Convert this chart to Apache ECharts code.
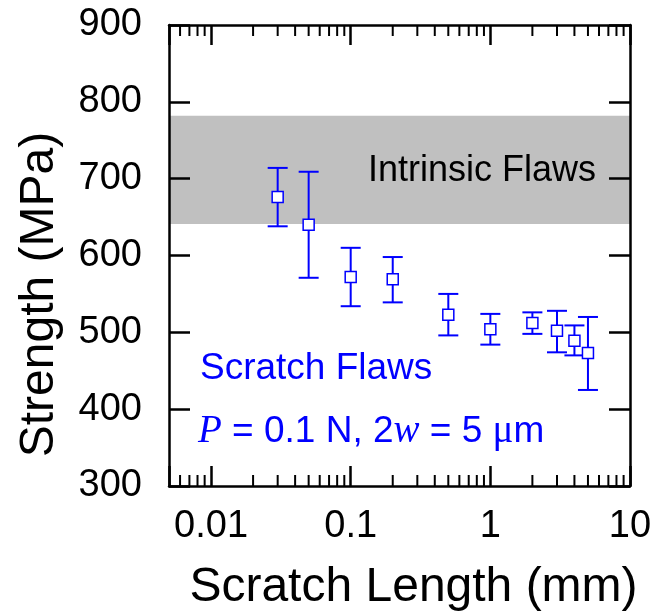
<!DOCTYPE html>
<html>
<head>
<meta charset="utf-8">
<script src="https://cdn.jsdelivr.net/npm/echarts@6/dist/echarts.min.js"></script>
<style>
html, body { margin: 0; padding: 0; background: #fff; }
#chart { width: 665px; height: 612px; }
</style>
</head>
<body>
<div id="chart"></div>
<script>
// scratch length (mm) and measured strength (MPa)
var scratchLength = [0.03, 0.05, 0.1, 0.2, 0.5, 1, 2, 3, 4, 5];
var strengthMean  = [676, 640, 572, 569, 523, 504, 512, 502, 489, 473];
var strengthHigh  = [714, 709, 610, 598, 550, 524, 526, 528, 509, 520];
var strengthLow   = [638, 571, 534, 539, 496, 484, 498, 474, 470, 425];

// intrinsic flaw strength band (MPa)
var intrinsicBand = [641, 782];

// axes
var xMin = 0.005, xMax = 10;
var yMin = 300, yMax = 900, yStep = 100;
var xTickLabels = ['0.01', '0.1', '1', '10'];
var xMinorTicks = [0.006, 0.007, 0.008, 0.009,
    0.02, 0.03, 0.04, 0.05, 0.06, 0.07, 0.08, 0.09,
    0.2, 0.3, 0.4, 0.5, 0.6, 0.7, 0.8, 0.9,
    2, 3, 4, 5, 6, 7, 8, 9];

var BLUE = '#0000ff';
var FONT = 'Liberation Sans, Arial, sans-serif';

var chart = echarts.init(document.getElementById('chart'));

function xLabel(v) {
    for (var i = 0; i < xTickLabels.length; i++) {
        if (Math.abs(Math.log10(v) - Math.log10(parseFloat(xTickLabels[i]))) < 1e-6) return xTickLabels[i];
    }
    return '';
}

function makeX(pos, withLabels) {
    return {
        type: 'log', logBase: 10, min: xMin, max: xMax, position: pos, z: 10,
        axisLine: { show: true, onZero: false, lineStyle: { color: '#000', width: 2.5 } },
        axisTick: { show: true, inside: true, length: 20, lineStyle: { color: '#000', width: 2.5 } },
        minorTick: { show: false },
        splitLine: { show: false },
        axisLabel: { show: withLabels, formatter: xLabel, color: '#000', fontSize: 38, fontFamily: FONT, margin: 22,
            showMinLabel: true, showMaxLabel: true },
        name: withLabels ? 'Scratch Length (mm)' : '',
        nameLocation: 'middle', nameGap: 78,
        nameTextStyle: { color: '#000', fontSize: 48, fontFamily: FONT, padding: [0, 0, 0, 28] }
    };
}

function makeY(pos, withLabels) {
    return {
        type: 'value', min: yMin, max: yMax, interval: yStep, position: pos, z: 10,
        axisLine: { show: true, onZero: false, lineStyle: { color: '#000', width: 2.5 } },
        axisTick: { show: true, inside: true, length: 21, lineStyle: { color: '#000', width: 2.5 } },
        splitLine: { show: false },
        axisLabel: { show: withLabels, color: '#000', fontSize: 38, fontFamily: FONT, margin: 27 },
        name: withLabels ? 'Strength (MPa)' : '',
        nameLocation: 'middle', nameGap: 105,
        nameTextStyle: { color: '#000', fontSize: 48, fontFamily: FONT, padding: [0, 78, 0, 0] }
    };
}

var option = {
    animation: false,
    backgroundColor: '#fff',
    grid: { left: 169, top: 25, width: 461, height: 461, outerBoundsMode: 'none', containLabel: false },
    xAxis: [makeX('bottom', true), makeX('top', false)],
    yAxis: [makeY('left', true), makeY('right', false)],
    series: [
        {
            // gray band
            type: 'line', data: [], silent: true,
            markArea: {
                silent: true,
                itemStyle: { color: '#c0c0c0' },
                data: [[{ yAxis: intrinsicBand[0] }, { yAxis: intrinsicBand[1] }]]
            }
        },
        {
            // minor ticks on the log axis, top and bottom
            type: 'custom', clip: false, silent: true, z: 11,
            data: xMinorTicks.map(function (v) { return [v, yMin]; }),
            encode: { x: 0, y: 1 },
            renderItem: function (params, api) {
                var b = api.coord([api.value(0), yMin]);
                var t = api.coord([api.value(0), yMax]);
                var st = { stroke: '#000', lineWidth: 2 };
                return {
                    type: 'group', children: [
                        { type: 'line', shape: { x1: b[0], y1: b[1], x2: b[0], y2: b[1] - 11 }, style: st },
                        { type: 'line', shape: { x1: t[0], y1: t[1], x2: t[0], y2: t[1] + 11 }, style: st }
                    ]
                };
            }
        },
        {
            // error bars
            type: 'custom', silent: true, z: 3,
            data: scratchLength.map(function (x, i) { return [x, strengthLow[i], strengthHigh[i]]; }),
            encode: { x: 0, y: [1, 2] },
            renderItem: function (params, api) {
                var lo = api.coord([api.value(0), api.value(1)]);
                var hi = api.coord([api.value(0), api.value(2)]);
                var w = 10;
                var st = { stroke: BLUE, lineWidth: 2 };
                return {
                    type: 'group', children: [
                        { type: 'line', shape: { x1: lo[0], y1: lo[1], x2: hi[0], y2: hi[1] }, style: st },
                        { type: 'line', shape: { x1: lo[0] - w, y1: lo[1], x2: lo[0] + w, y2: lo[1] }, style: st },
                        { type: 'line', shape: { x1: hi[0] - w, y1: hi[1], x2: hi[0] + w, y2: hi[1] }, style: st }
                    ]
                };
            }
        },
        {
            type: 'scatter', z: 4, silent: true,
            symbol: 'rect', symbolSize: 11,
            itemStyle: { color: '#fff', borderColor: BLUE, borderWidth: 1.5, opacity: 1 },
            data: scratchLength.map(function (x, i) { return [x, strengthMean[i]]; })
        }
    ],
    graphic: [
        {
            type: 'text', x: 596, y: 171, z: 20,
            style: { text: 'Intrinsic Flaws', fill: '#000', font: '36px ' + FONT, align: 'right', verticalAlign: 'middle' }
        },
        {
            type: 'text', x: 200, y: 369, z: 20,
            style: { text: 'Scratch Flaws', fill: BLUE, font: '37px ' + FONT, align: 'left', verticalAlign: 'middle' }
        },
        {
            type: 'text', x: 198, y: 432, z: 20,
            style: {
                text: '{i|P} = 0.1 N, 2{i|w} = 5 {m|\u03bc}m',
                fill: BLUE, font: '37px ' + FONT, align: 'left', verticalAlign: 'middle',
                rich: {
                    i: { fontFamily: 'Liberation Serif, Times New Roman, serif', fontStyle: 'italic', fontSize: 39, fill: BLUE },
                    m: { fontFamily: 'Liberation Serif, Times New Roman, serif', fontSize: 39, fill: BLUE }
                }
            }
        }
    ]
};

chart.setOption(option);
</script>
</body>
</html>
